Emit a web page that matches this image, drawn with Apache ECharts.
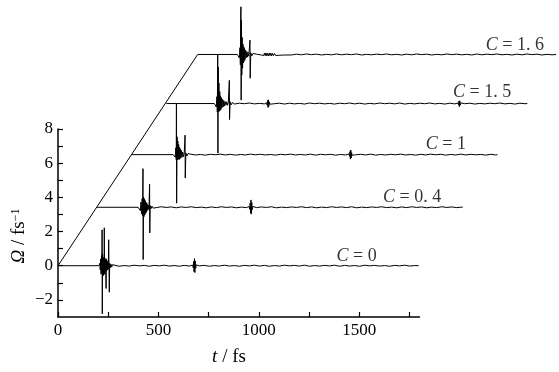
<!DOCTYPE html>
<html>
<head>
<meta charset="utf-8">
<script src="https://cdn.jsdelivr.net/npm/echarts@6/dist/echarts.min.js"></script>
<style>
html,body{margin:0;padding:0;background:#fff;}
#chart{width:559px;height:372px;}
</style>
</head>
<body>
<div id="chart"></div>
<script>
// axis ticks
var xTicks = [0, 250, 500, 750, 1000, 1250, 1500, 1750];
var xLabels = [0, 500, 1000, 1500];
var yTicks = [-2, -1, 0, 1, 2, 3, 4, 5, 6, 7, 8];
var yLabels = [-2, 0, 2, 4, 6, 8];

// ramp line joining the start of every trace
var rampT = [0, 697];
var rampV = [0, 12.36];

// trace meta: C value, vertical shift, start / end time
var cNames   = ['0', '0. 4', '1', '1. 5', '1. 6'];
var offsets  = [0, 3.42, 6.5, 9.49, 12.36];
var starts   = [0, 195, 366, 541, 697];
var ends     = [1800, 2020, 2193, 2342, 2485];
var noiseFrom = [280, 490, 660, 880, 990];
var noiseStep = 25;

// label anchors (t, Omega)
var labelT = [1390, 1622, 1835, 1971, 2135];
var labelV = [0.56, 4.03, 7.11, 10.13, 12.9];

// bursts [t, amplitude] relative to trace baseline
var burstC0 = [[205,0],[209,0.15],[211,-0.25],[213,0.4],[215,-0.5],[217,0.6],[219,-0.4],[220,2.1],[221,-2.81],[222.5,0.7],[224,-0.6],[225.5,0.5],[227,-0.55],[228.5,0.45],[230,-0.4],[231,2.22],[232.5,-0.5],[234,0.45],[235.5,-0.4],[237,0.35],[238.5,-0.4],[240,-1.33],[241.5,0.4],[243,-0.3],[245,0.3],[247,-0.25],[249,0.2],[251,-0.2],[253,1.52],[254.5,-0.15],[256,-1.55],[258,0.15],[261,-0.12],[264,0.1],[268,-0.08],[272,0.06]];
var blobC0 = [[672,0.04],[675,-0.12],[677,0.25],[679,-0.35],[681,0.42],[683,-0.4],[685,0.28],[687,-0.15],[690,0.05]];

var burstC04 = [[400,0],[408,0.1],[411,-0.2],[414,0.3],[417,-0.4],[420,0.5],[422,-0.5],[424,2.26],[425,-3.06],[427,0.6],[429,-0.55],[431,0.5],[433,-0.45],[435,0.4],[437,-0.35],[439,0.3],[441,-0.3],[443,0.25],[445,-0.2],[447,0.15],[449,-0.15],[451,0.12],[454,-0.1],[457,1.35],[458,-1.5],[460,0.1],[464,-0.08],[469,0.07],[475,-0.05]];
var blobC04 = [[954,0.04],[957,-0.12],[959,0.25],[961,-0.35],[963,0.43],[965,-0.4],[967,0.28],[969,-0.14],[972,0.05]];

var burstC1 = [[575,0],[582,0.1],[585,-0.15],[588,0.4],[590,-0.3],[591,3.0],[592,-2.84],[594,1.05],[596,-0.3],[598,0.8],[600,-0.25],[602,0.6],[604,-0.3],[606,0.45],[608,-0.25],[610,0.35],[613,-0.2],[616,0.25],[619,-0.15],[622,0.15],[626,-0.12],[630,0.1],[634,1.14],[635,-1.37],[638,0.1],[643,-0.08],[649,0.06],[655,-0.05]];
var blobC1 = [[1452,0.04],[1455,-0.1],[1457,0.18],[1459,-0.26],[1461,0.27],[1463,-0.2],[1465,0.12],[1468,-0.04]];

var burstC15 = [[780,0],[787,0.1],[790,-0.2],[793,0.4],[795,-0.5],[797,2.87],[798,-2.9],[799.5,2.14],[801,-0.5],[803,1.2],[805,-0.45],[807,0.7],[809,-0.4],[811,0.45],[813,-0.35],[815,0.35],[818,-0.25],[821,0.25],[824,-0.2],[827,0.18],[830,-0.15],[834,0.12],[838,-0.1],[842,0.1],[846,-0.1],[850,0.08],[855,1.36],[856,-0.94],[859,0.1],[864,-0.08],[870,0.06]];
var blobC15 = [[1041,0.04],[1044,-0.1],[1046,0.18],[1048,-0.23],[1050,0.22],[1052,-0.16],[1054,0.1],[1057,-0.04],[1996,0.03],[1999,-0.09],[2001,0.15],[2003,-0.18],[2005,0.16],[2007,-0.1],[2010,0.04]];

var burstC16 = [[895,0],[902,0.1],[905,-0.2],[908,0.4],[910,-0.6],[912,2.5],[913,2.79],[914,-2.67],[915.5,2.0],[917,-1.2],[919,1.0],[921,-0.8],[923,0.6],[925,-0.5],[927,0.45],[929,-0.4],[931,0.35],[933,-0.3],[936,0.25],[939,-0.2],[942,0.18],[945,-0.15],[948,0.12],[952,-0.1],[958,0.84],[959,-1.39],[962,0.1],[967,-0.08],[973,0.06]];
var blobC16 = [[1022,0.05],[1026,-0.07],[1030,0.08],[1034,-0.07],[1038,0.09],[1042,-0.08],[1046,0.07],[1050,-0.09],[1054,0.08],[1058,-0.07],[1062,0.08],[1066,-0.08],[1070,0.07],[1075,-0.07],[1080,0.06],[1086,-0.06],[1092,0.06],[1099,-0.05],[1106,0.05],[1114,-0.04],[1122,0.04],[1131,-0.03],[1140,0.03]];

// small ripple after the burst, one value every noiseStep fs
var noiseC0 = [0.02,-0.03,0.01,-0.02,0.03,-0.01,0.02,-0.03,0.02,-0.01,0.03,-0.02,0.01,-0.03,0.02,-0.02,0.03,-0.01,0.02,-0.03,0.01,-0.02,0.03,-0.02,0.01,-0.03,0.02,-0.01,0.03,-0.02,0.02,-0.03,0.01,-0.02,0.03,-0.01,0.02,-0.02,0.03,-0.03,0.01,-0.02,0.02,-0.01,0.03,-0.03,0.02,-0.02,0.01,-0.03,0.03,-0.01,0.02,-0.02,0.01,-0.03,0.02,-0.01,0.03,-0.02,0.01,-0.02];
var noiseC04 = [-0.02,0.03,-0.01,0.02,-0.03,0.02,-0.01,0.03,-0.02,0.01,-0.03,0.02,-0.02,0.03,-0.01,0.02,-0.03,0.01,-0.02,0.03,-0.02,0.02,-0.01,0.03,-0.03,0.01,-0.02,0.02,-0.01,0.03,-0.02,0.02,-0.03,0.01,-0.02,0.03,-0.01,0.02,-0.02,0.03,-0.03,0.01,-0.02,0.02,-0.01,0.03,-0.02,0.01,-0.03,0.02,-0.02,0.03,-0.01,0.02,-0.03,0.01,-0.02,0.03,-0.01,0.02,-0.02,0.01];
var noiseC1 = [0.03,-0.02,0.01,-0.03,0.02,-0.01,0.03,-0.02,0.02,-0.03,0.01,-0.02,0.03,-0.01,0.02,-0.02,0.01,-0.03,0.02,-0.01,0.03,-0.02,0.01,-0.02,0.03,-0.03,0.02,-0.01,0.02,-0.03,0.01,-0.02,0.03,-0.01,0.02,-0.02,0.03,-0.03,0.01,-0.02,0.02,-0.01,0.03,-0.02,0.01,-0.03,0.02,-0.02,0.03,-0.01,0.02,-0.03,0.01,-0.02,0.03,-0.02,0.02,-0.01,0.01,-0.03,0.02,-0.02];
var noiseC15 = [-0.03,0.02,-0.01,0.03,-0.02,0.01,-0.02,0.03,-0.01,0.02,-0.03,0.02,-0.02,0.01,-0.03,0.03,-0.01,0.02,-0.02,0.01,-0.03,0.02,-0.01,0.03,-0.02,0.02,-0.03,0.01,-0.02,0.03,-0.01,0.02,-0.02,0.03,-0.03,0.01,-0.02,0.02,-0.01,0.03,-0.02,0.01,-0.03,0.02,-0.02,0.03,-0.01,0.02,-0.03,0.01,-0.02,0.02,-0.01,0.03,-0.02,0.01,-0.03,0.02,-0.01];
var noiseC16 = [0.02,-0.03,0.02,-0.01,0.03,-0.02,0.01,-0.03,0.02,-0.02,0.03,-0.01,0.02,-0.03,0.01,-0.02,0.03,-0.02,0.02,-0.01,0.03,-0.03,0.01,-0.02,0.02,-0.01,0.03,-0.02,0.01,-0.03,0.02,-0.02,0.03,-0.01,0.02,-0.03,0.01,-0.02,0.03,-0.01,0.02,-0.02,0.01,-0.03,0.03,-0.02,0.02,-0.01,0.03,-0.02,0.01,-0.03,0.02,-0.02,0.03,-0.01,0.02,-0.03,0.01,-0.02];

var bursts = [burstC0, burstC04, burstC1, burstC15, burstC16];
var blobs = [blobC0, blobC04, blobC1, blobC15, blobC16];
var noises = [noiseC0, noiseC04, noiseC1, noiseC15, noiseC16];

var FONT = '"Liberation Serif", "DejaVu Serif", serif';

// plot geometry: visible axes cover 0..1800 fs; traces run past it on a hidden wider grid with the same scale
var plotLeft = 58, plotTop = 129, plotW = 361.5, plotH = 188;
var tMaxShown = 1800, tMaxAll = 2500;

function buildTrace(i){
  var pts = [[starts[i], 0]].concat(bursts[i], blobs[i]);
  noises[i].forEach(function(v, k){
    var t = noiseFrom[i] + k * noiseStep;
    if (t < ends[i]) pts.push([t, v]);
  });
  pts.push([ends[i], 0]);
  pts.sort(function(a, b){ return a[0] - b[0]; });
  return pts.map(function(p){ return [p[0], p[1] + offsets[i]]; });
}

var series = [{
  type: 'line', xAxisIndex: 1, yAxisIndex: 1,
  data: rampT.map(function(t, k){ return [t, rampV[k]]; }),
  showSymbol: false, clip: false, silent: true,
  lineStyle: {color: '#000', width: 1}
}];
for (var i = 0; i < cNames.length; i++){
  series.push({
    type: 'line', xAxisIndex: 1, yAxisIndex: 1,
    data: buildTrace(i),
    showSymbol: false, clip: false, silent: true,
    lineStyle: {color: '#000', width: 1}
  });
}
series.push({
  type: 'scatter', xAxisIndex: 1, yAxisIndex: 1,
  symbolSize: 0, clip: false, silent: true,
  data: labelT.map(function(t, k){ return [t, labelV[k], cNames[k]]; }),
  label: {
    show: true, position: 'right', distance: 0,
    formatter: function(p){ return '{i|C}{r| = ' + p.data[2] + '}'; },
    rich: {
      i: {fontStyle: 'italic', fontFamily: FONT, fontSize: 18, color: '#000'},
      r: {fontFamily: FONT, fontSize: 18, color: '#000'}
    }
  }
});

var chart = echarts.init(document.getElementById('chart'), null, {renderer: 'canvas'});
chart.setOption({
  animation: false,
  backgroundColor: '#fff',
  grid: [
    {left: plotLeft, top: plotTop, width: plotW, height: plotH},
    {left: plotLeft, top: plotTop, width: plotW * tMaxAll / tMaxShown, height: plotH}
  ],
  xAxis: [{
    type: 'value', gridIndex: 0, min: 0, max: tMaxShown,
    axisLine: {show: true, onZero: false, lineStyle: {color: '#000', width: 1.5}},
    axisTick: {show: true, inside: true, length: 5, customValues: xTicks, lineStyle: {color: '#000', width: 1.2}},
    axisLabel: {customValues: xLabels, color: '#000', fontFamily: FONT, fontSize: 17, margin: 5,
      formatter: function(v){ return String(v); }},
    splitLine: {show: false}
  }, {
    type: 'value', gridIndex: 1, min: 0, max: tMaxAll, show: false
  }],
  yAxis: [{
    type: 'value', gridIndex: 0, min: -3, max: 8,
    axisLine: {show: true, onZero: false, lineStyle: {color: '#000', width: 1.5}},
    axisTick: {show: true, inside: true, length: 5, customValues: yTicks, lineStyle: {color: '#000', width: 1.2}},
    axisLabel: {customValues: yLabels, color: '#000', fontFamily: FONT, fontSize: 17, margin: 5,
      formatter: function(v){ return v < 0 ? '\u2212' + Math.abs(v) : String(v); }},
    splitLine: {show: false}
  }, {
    type: 'value', gridIndex: 1, min: -3, max: 8, show: false
  }],
  graphic: [
    {type: 'text', x: 229, y: 357,
      style: {text: '{i|t}{r| / fs}', fill: '#000', align: 'center', verticalAlign: 'middle',
        rich: {i: {fontStyle: 'italic', fontFamily: FONT, fontSize: 19, fill: '#000'},
               r: {fontFamily: FONT, fontSize: 19, fill: '#000'}}}},
    {type: 'text', x: 19, y: 236, rotation: Math.PI / 2,
      style: {text: '{i|\u03A9}{r| / fs}{s|\u22121}', fill: '#000', align: 'center', verticalAlign: 'middle',
        rich: {i: {fontStyle: 'italic', fontFamily: FONT, fontSize: 19, fill: '#000'},
               r: {fontFamily: FONT, fontSize: 19, fill: '#000'},
               s: {fontFamily: FONT, fontSize: 12, fill: '#000', verticalAlign: 'top'}}}}
  ],
  series: series
});
</script>
</body>
</html>
